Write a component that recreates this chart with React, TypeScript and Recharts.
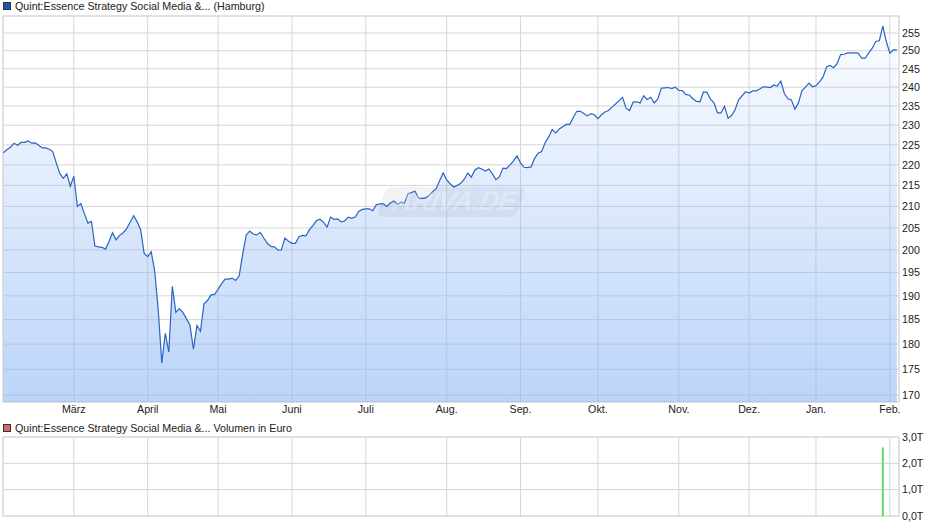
import React from "react"
import { AreaChart, Area, BarChart, Bar, XAxis, YAxis, CartesianGrid, ReferenceArea } from "recharts"

const priceValues = [
  223.0, 223.8, 224.4, 225.4, 224.9, 225.6, 225.6, 226.0, 225.4, 225.5,
  224.9, 224.2, 224.2, 223.9, 223.3, 220.5, 217.9, 216.7, 217.8, 214.8,
  217.2, 210.0, 210.7, 208.3, 206.1, 206.5, 200.9, 200.7, 200.6, 200.2,
  201.9, 203.9, 202.3, 203.3, 203.9, 204.8, 206.3, 207.8, 206.4, 204.6,
  199.2, 198.5, 199.6, 195.3, 187.0, 176.2, 182.2, 178.4, 192.0, 186.5,
  187.3, 186.5, 185.2, 183.9, 179.0, 183.8, 182.6, 188.3, 189.0, 190.2,
  190.3, 191.4, 192.6, 193.6, 193.6, 193.8, 193.3, 194.3, 199.0, 203.4,
  204.3, 203.6, 203.4, 204.0, 202.7, 201.5, 200.8, 200.7, 200.0, 200.0,
  202.7, 202.0, 201.5, 201.5, 203.0, 203.3, 203.2, 204.6, 205.6, 206.7,
  207.0, 206.3, 205.2, 207.5, 207.0, 207.1, 206.4, 206.6, 207.5, 207.2,
  207.5, 208.8, 209.3, 209.4, 209.4, 209.0, 210.4, 210.6, 210.6, 210.0,
  210.8, 211.3, 210.5, 211.0, 210.7, 213.0, 213.3, 213.6, 212.0, 211.9,
  212.0, 212.6, 213.5, 214.2, 216.1, 218.0, 216.3, 215.4, 214.6, 215.0,
  215.5, 216.5, 218.0, 217.0, 218.7, 219.3, 219.0, 218.5, 219.0, 217.8,
  216.4, 217.1, 219.2, 219.1, 220.0, 221.0, 222.2, 220.5, 219.4, 219.3,
  219.5, 221.6, 222.9, 223.3, 225.5, 227.0, 228.9, 228.0, 229.0, 229.6,
  230.2, 230.2, 232.0, 233.6, 233.6, 233.0, 232.4, 233.0, 232.7, 231.7,
  232.7, 233.4, 233.8, 234.7, 235.5, 236.4, 237.3, 234.4, 233.8, 236.0,
  236.1, 235.8, 237.7, 236.7, 237.3, 235.8, 236.8, 239.7, 239.8, 239.9,
  239.6, 240.0, 239.1, 239.1, 238.0, 237.9, 236.9, 236.2, 236.1, 238.7,
  238.6, 236.8, 235.8, 233.2, 233.2, 234.9, 231.8, 232.5, 234.0, 236.6,
  237.7, 238.8, 238.4, 239.0, 239.0, 239.5, 240.1, 240.0, 239.9, 240.6,
  240.3, 241.6, 238.3, 236.9, 236.6, 234.2, 235.8, 239.0, 240.0, 241.1,
  240.1, 240.4, 241.4, 242.7, 245.5, 245.9, 245.3, 246.4, 248.9, 249.0,
  249.4, 249.4, 249.4, 249.3, 247.9, 247.9, 249.4, 250.7, 252.6, 252.8,
  257.0, 252.5, 249.3, 250.2, 250.2,
]

// trading day index where each month starts
const monthTicks = [20, 41, 61, 82, 103, 126, 147, 169, 192, 212, 231, 252]
const monthLabels = ["März", "April", "Mai", "Juni", "Juli", "Aug.", "Sep.", "Okt.", "Nov.", "Dez.", "Jan.", "Feb."]

const priceTicks = [170, 175, 180, 185, 190, 195, 200, 205, 210, 215, 220, 225, 230, 235, 240, 245, 250, 255]
const volumeDays = [250]
const volumeValues = [2.6]
const volumeTicks = [0, 1, 2, 3]

const priceData = priceValues.map((price, day) => ({ day, price }))
const volumeData = volumeDays.map((day, i) => ({ day, volume: volumeValues[i] }))

const FONT = "'Liberation Sans', Arial, sans-serif"
const GRID = "#d6d6d6"
const DAY_DOMAIN: [number, number] = [-0.14, 254.6]
const PRICE_DOMAIN: [number, number] = [168.7, 259.9]

const tickStyle = { fontSize: 10.7, fontFamily: FONT, fill: "#222" }

const monthLabel = (v: number) => monthLabels[monthTicks.indexOf(v)] ?? ""

const LegendRow = ({ top, color, text }: { top: number; color: string; text: string }) => (
  <div style={{ position: "absolute", left: 3, top, height: 12, display: "flex", alignItems: "center", whiteSpace: "nowrap" }}>
    <span style={{ width: 6, height: 6, background: color, border: "1px solid #333", marginRight: 4 }} />
    <span style={{ fontFamily: FONT, fontSize: 10.7, color: "#222", lineHeight: "12px" }}>{text}</span>
  </div>
)

const Watermark = () => (
  <div style={{ position: "absolute", left: 381, top: 187, width: 140, height: 30, transform: "skewX(-18deg)", background: "rgba(120,130,150,0.1)", borderRadius: 7, pointerEvents: "none" }}>
    <div style={{ position: "absolute", left: 12, top: -1, transform: "skewX(6deg)", fontFamily: FONT, fontSize: 27, fontWeight: 700, fontStyle: "italic", color: "rgba(255,255,255,0.3)", letterSpacing: -0.5, whiteSpace: "nowrap" }}>
      ARIVA.DE
    </div>
  </div>
)

export default function App() {
  return (
    <div style={{ position: "absolute", left: 0, top: 0, width: 940, height: 526, overflow: "hidden", background: "#fff" }}>
      <LegendRow top={0} color="#1a56b8" text="Quint:Essence Strategy Social Media &... (Hamburg)" />
      <LegendRow top={422} color="#d96a6a" text="Quint:Essence Strategy Social Media &... Volumen in Euro" />

      <div style={{ position: "absolute", left: 0, top: 0 }}>
        <AreaChart width={940} height={420} data={priceData} margin={{ top: 16, right: 0, bottom: 0, left: 3 }}>
          <defs>
            <linearGradient id="priceFill" x1="0" y1="0" x2="0" y2="1">
              <stop offset="0%" stopColor="#89b4f5" stopOpacity={0.03} />
              <stop offset="100%" stopColor="#89b4f5" stopOpacity={0.57} />
            </linearGradient>
          </defs>
          <CartesianGrid stroke={GRID} strokeWidth={1} />
          <ReferenceArea x1={DAY_DOMAIN[0]} x2={DAY_DOMAIN[1]} y1={PRICE_DOMAIN[0]} y2={PRICE_DOMAIN[1]} fill="none" stroke={GRID} strokeWidth={1} />
          <XAxis
            dataKey="day"
            type="number"
            domain={DAY_DOMAIN}
            ticks={monthTicks}
            tickFormatter={monthLabel}
            interval={0}
            height={18}
            tick={tickStyle}
            tickLine={false}
            axisLine={false}
            tickSize={0}
            tickMargin={3}
            allowDataOverflow
          />
          <YAxis
            orientation="right"
            type="number"
            scale="log"
            domain={PRICE_DOMAIN}
            ticks={priceTicks}
            interval={0}
            width={41}
            tick={tickStyle}
            tickLine={false}
            axisLine={false}
            tickSize={0}
            tickMargin={3}
            allowDataOverflow
          />
          <Area
            dataKey="price"
            type="linear"
            stroke="#2a64c4"
            strokeWidth={1.2}
            fill="url(#priceFill)"
            fillOpacity={1}
            dot={false}
            activeDot={false}
            isAnimationActive={false}
          />
        </AreaChart>
      </div>
      <Watermark />

      <div style={{ position: "absolute", left: 0, top: 420 }}>
        <BarChart width={940} height={106} data={volumeData} margin={{ top: 17, right: 0, bottom: 10, left: 3 }}>
          <CartesianGrid stroke={GRID} strokeWidth={1} />
          <ReferenceArea x1={DAY_DOMAIN[0]} x2={DAY_DOMAIN[1]} y1={0} y2={3} fill="none" stroke={GRID} strokeWidth={1} />
          <XAxis dataKey="day" type="number" domain={DAY_DOMAIN} ticks={monthTicks} tickFormatter={() => ""} interval={0} height={0} tickLine={false} axisLine={false} allowDataOverflow />
          <YAxis
            orientation="right"
            type="number"
            domain={[0, 3]}
            ticks={volumeTicks}
            interval={0}
            width={41}
            tick={tickStyle}
            tickFormatter={(v: number) => `${v},0T`}
            tickLine={false}
            axisLine={false}
            tickSize={0}
            tickMargin={3}
          />
          <Bar dataKey="volume" fill="#66d866" barSize={2} isAnimationActive={false} />
        </BarChart>
      </div>
    </div>
  )
}
